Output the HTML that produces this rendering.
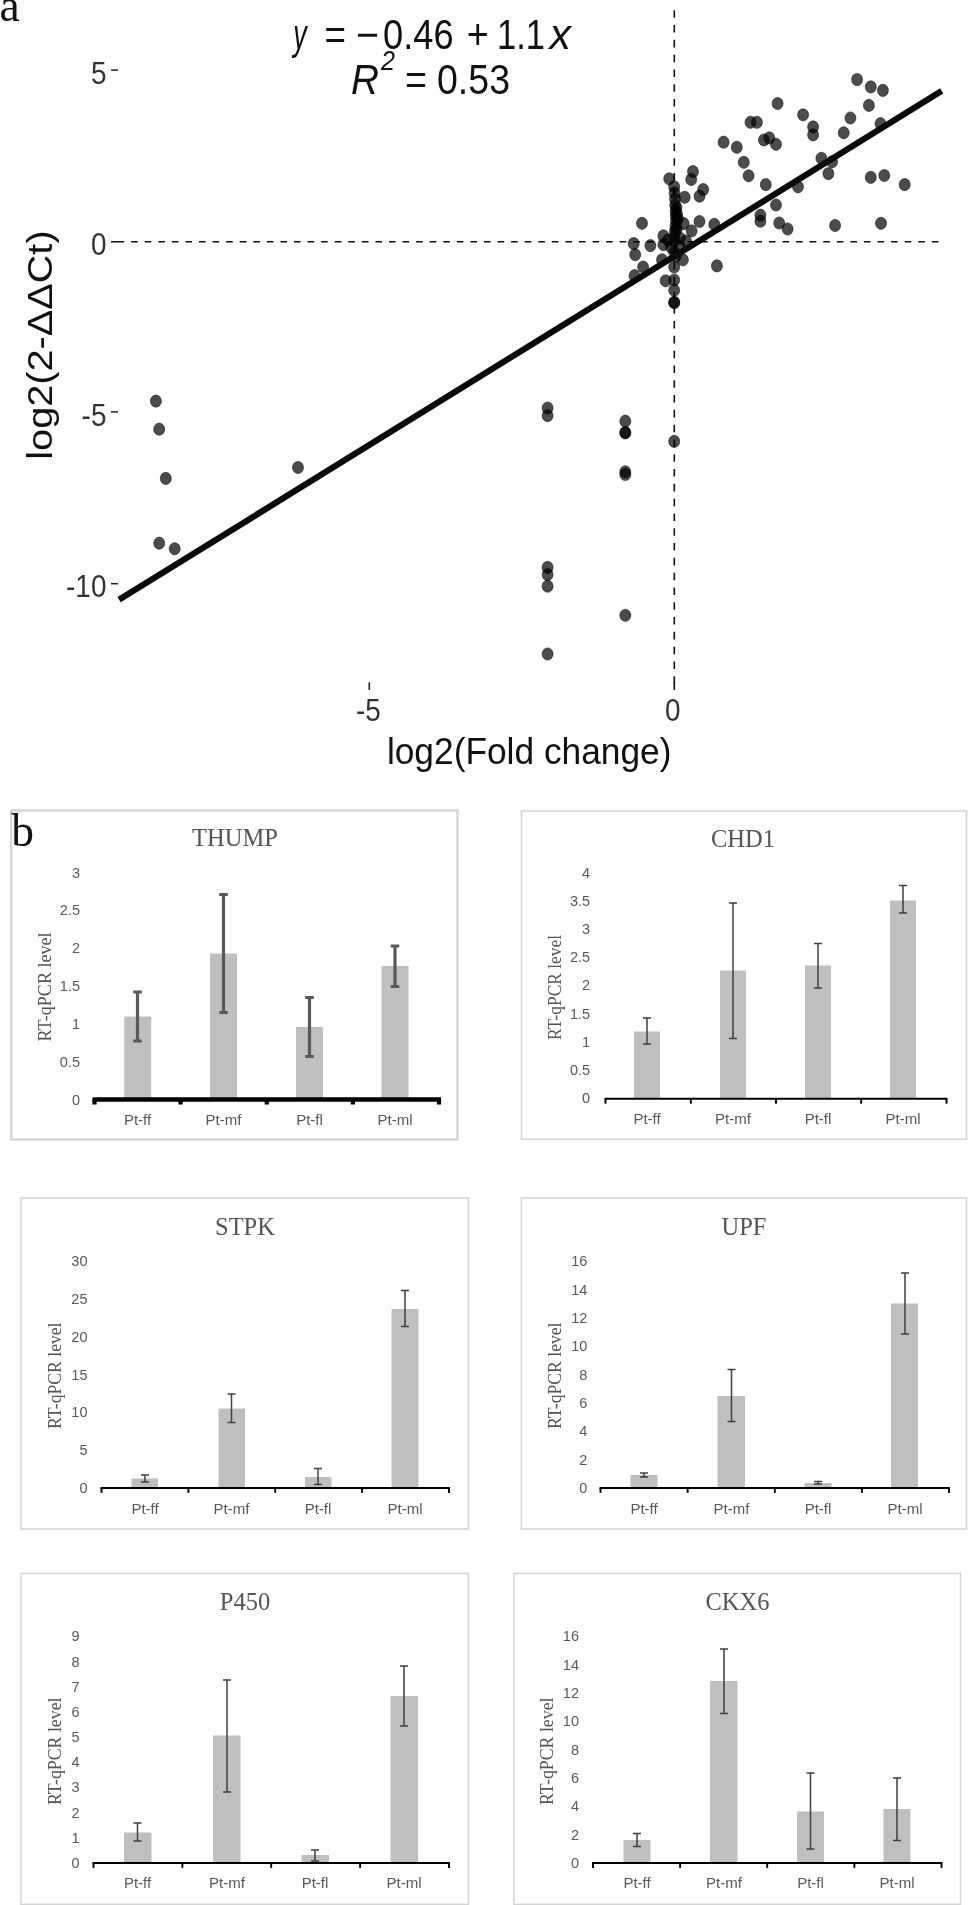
<!DOCTYPE html>
<html lang="en">
<head>
<meta charset="utf-8">
<title>Figure: RT-qPCR validation</title>
<style>
html,body{margin:0;padding:0;background:#fff;}
body{width:968px;height:1905px;overflow:hidden;}
svg{display:block;will-change:transform;}
text{white-space:pre;}
</style>
</head>
<body>
<svg width="968" height="1905" viewBox="0 0 968 1905">
<rect width="968" height="1905" fill="#fff"/>
<g id="scatter">
<line x1="117.6" y1="241.8" x2="942" y2="241.8" stroke="#111" stroke-width="1.5" stroke-dasharray="6.6 6.97"/>
<line x1="111" y1="241.8" x2="118" y2="241.8" stroke="#111" stroke-width="1.5"/>
<line x1="674.3" y1="10.25" x2="674.3" y2="683.8" stroke="#111" stroke-width="1.6" stroke-dasharray="7.55 7.25"/>
<line x1="674.3" y1="682.4" x2="674.3" y2="690" stroke="#111" stroke-width="1.6"/>
<g fill="#000" fill-opacity="0.70" stroke="#000" stroke-opacity="0.5" stroke-width="1">
<ellipse cx="669.2" cy="178.8" rx="5.5" ry="6.1"/>
<ellipse cx="693.0" cy="171.6" rx="5.5" ry="6.1"/>
<ellipse cx="691.2" cy="179.5" rx="5.5" ry="6.1"/>
<ellipse cx="703.2" cy="189.6" rx="5.5" ry="6.1"/>
<ellipse cx="699.5" cy="196.2" rx="5.5" ry="6.1"/>
<ellipse cx="684.7" cy="197.3" rx="5.5" ry="6.1"/>
<ellipse cx="674.2" cy="186.8" rx="5.5" ry="6.1"/>
<ellipse cx="674.6" cy="193" rx="5.5" ry="6.1"/>
<ellipse cx="675" cy="199" rx="5.5" ry="6.1"/>
<ellipse cx="675.2" cy="205" rx="5.5" ry="6.1"/>
<ellipse cx="675.6" cy="211" rx="5.5" ry="6.1"/>
<ellipse cx="675.8" cy="216" rx="5.5" ry="6.1"/>
<ellipse cx="676" cy="221" rx="5.5" ry="6.1"/>
<ellipse cx="675.5" cy="226" rx="5.5" ry="6.1"/>
<ellipse cx="675" cy="231" rx="5.5" ry="6.1"/>
<ellipse cx="674.6" cy="236" rx="5.5" ry="6.1"/>
<ellipse cx="674.2" cy="241" rx="5.5" ry="6.1"/>
<ellipse cx="676.5" cy="208" rx="5.5" ry="6.1"/>
<ellipse cx="677" cy="214" rx="5.5" ry="6.1"/>
<ellipse cx="678" cy="219" rx="5.5" ry="6.1"/>
<ellipse cx="676.8" cy="229" rx="5.5" ry="6.1"/>
<ellipse cx="642" cy="223.3" rx="5.5" ry="6.1"/>
<ellipse cx="699.5" cy="221.5" rx="5.5" ry="6.1"/>
<ellipse cx="714.3" cy="224.4" rx="5.5" ry="6.1"/>
<ellipse cx="683.6" cy="223.6" rx="5.5" ry="6.1"/>
<ellipse cx="691.6" cy="230.9" rx="5.5" ry="6.1"/>
<ellipse cx="663.4" cy="235.9" rx="5.5" ry="6.1"/>
<ellipse cx="633.7" cy="243.6" rx="5.5" ry="6.1"/>
<ellipse cx="650.4" cy="245.6" rx="5.5" ry="6.1"/>
<ellipse cx="663.4" cy="244.6" rx="5.5" ry="6.1"/>
<ellipse cx="668" cy="240" rx="5.5" ry="6.1"/>
<ellipse cx="680" cy="238" rx="5.5" ry="6.1"/>
<ellipse cx="686" cy="241" rx="5.5" ry="6.1"/>
<ellipse cx="680" cy="247" rx="5.5" ry="6.1"/>
<ellipse cx="671" cy="247" rx="5.5" ry="6.1"/>
<ellipse cx="635.2" cy="254.7" rx="5.5" ry="6.1"/>
<ellipse cx="643.1" cy="267" rx="5.5" ry="6.1"/>
<ellipse cx="634.5" cy="275.7" rx="5.5" ry="6.1"/>
<ellipse cx="662" cy="259.8" rx="5.5" ry="6.1"/>
<ellipse cx="682.9" cy="259.8" rx="5.5" ry="6.1"/>
<ellipse cx="716.9" cy="265.9" rx="5.5" ry="6.1"/>
<ellipse cx="674.2" cy="252" rx="5.5" ry="6.1"/>
<ellipse cx="676" cy="256" rx="5.5" ry="6.1"/>
<ellipse cx="674.2" cy="267" rx="5.5" ry="6.1"/>
<ellipse cx="665.6" cy="280.8" rx="5.5" ry="6.1"/>
<ellipse cx="674.2" cy="280" rx="5.5" ry="6.1"/>
<ellipse cx="674.2" cy="290.2" rx="5.5" ry="6.1"/>
<ellipse cx="674.2" cy="302.5" rx="5.5" ry="6.1"/>
<ellipse cx="674.2" cy="302.5" rx="5.5" ry="6.1"/>
<ellipse cx="857.1" cy="79.6" rx="5.5" ry="6.1"/>
<ellipse cx="870.8" cy="86.9" rx="5.5" ry="6.1"/>
<ellipse cx="882.9" cy="90.4" rx="5.5" ry="6.1"/>
<ellipse cx="868.9" cy="105.4" rx="5.5" ry="6.1"/>
<ellipse cx="777.6" cy="103.5" rx="5.5" ry="6.1"/>
<ellipse cx="803.1" cy="114.8" rx="5.5" ry="6.1"/>
<ellipse cx="850.4" cy="118" rx="5.5" ry="6.1"/>
<ellipse cx="880.5" cy="123.7" rx="5.5" ry="6.1"/>
<ellipse cx="750.5" cy="122.3" rx="5.5" ry="6.1"/>
<ellipse cx="756.9" cy="122.3" rx="5.5" ry="6.1"/>
<ellipse cx="813.1" cy="126.9" rx="5.5" ry="6.1"/>
<ellipse cx="813.1" cy="134.9" rx="5.5" ry="6.1"/>
<ellipse cx="843.7" cy="132.8" rx="5.5" ry="6.1"/>
<ellipse cx="723.6" cy="142.2" rx="5.5" ry="6.1"/>
<ellipse cx="736.8" cy="147.3" rx="5.5" ry="6.1"/>
<ellipse cx="763.9" cy="140" rx="5.5" ry="6.1"/>
<ellipse cx="769.3" cy="137.9" rx="5.5" ry="6.1"/>
<ellipse cx="776" cy="144.3" rx="5.5" ry="6.1"/>
<ellipse cx="743.8" cy="162.3" rx="5.5" ry="6.1"/>
<ellipse cx="748.6" cy="175.8" rx="5.5" ry="6.1"/>
<ellipse cx="821.4" cy="158.3" rx="5.5" ry="6.1"/>
<ellipse cx="832.1" cy="161.8" rx="5.5" ry="6.1"/>
<ellipse cx="828.4" cy="173.6" rx="5.5" ry="6.1"/>
<ellipse cx="765.8" cy="184.6" rx="5.5" ry="6.1"/>
<ellipse cx="798" cy="186.8" rx="5.5" ry="6.1"/>
<ellipse cx="870.8" cy="177.4" rx="5.5" ry="6.1"/>
<ellipse cx="884.3" cy="175.5" rx="5.5" ry="6.1"/>
<ellipse cx="904.7" cy="184.6" rx="5.5" ry="6.1"/>
<ellipse cx="776" cy="205" rx="5.5" ry="6.1"/>
<ellipse cx="760.4" cy="215.2" rx="5.5" ry="6.1"/>
<ellipse cx="760.4" cy="221.2" rx="5.5" ry="6.1"/>
<ellipse cx="779.2" cy="223" rx="5.5" ry="6.1"/>
<ellipse cx="787.6" cy="229" rx="5.5" ry="6.1"/>
<ellipse cx="835.1" cy="225.5" rx="5.5" ry="6.1"/>
<ellipse cx="881" cy="223.3" rx="5.5" ry="6.1"/>
<ellipse cx="155.9" cy="401.1" rx="5.5" ry="6.1"/>
<ellipse cx="159.2" cy="429.2" rx="5.5" ry="6.1"/>
<ellipse cx="165.8" cy="478.4" rx="5.5" ry="6.1"/>
<ellipse cx="159.2" cy="543.2" rx="5.5" ry="6.1"/>
<ellipse cx="174.7" cy="548.8" rx="5.5" ry="6.1"/>
<ellipse cx="298" cy="467.5" rx="5.5" ry="6.1"/>
<ellipse cx="547.6" cy="408" rx="5.5" ry="6.1"/>
<ellipse cx="547.6" cy="415.6" rx="5.5" ry="6.1"/>
<ellipse cx="547.6" cy="567.4" rx="5.5" ry="6.1"/>
<ellipse cx="547.6" cy="574.6" rx="5.5" ry="6.1"/>
<ellipse cx="547.6" cy="586.2" rx="5.5" ry="6.1"/>
<ellipse cx="547.6" cy="654" rx="5.5" ry="6.1"/>
<ellipse cx="625.3" cy="421.2" rx="5.5" ry="6.1"/>
<ellipse cx="625.3" cy="432.5" rx="5.5" ry="6.1"/>
<ellipse cx="625.3" cy="432.9" rx="5.5" ry="6.1"/>
<ellipse cx="625.3" cy="471.8" rx="5.5" ry="6.1"/>
<ellipse cx="625.3" cy="474.5" rx="5.5" ry="6.1"/>
<ellipse cx="625.3" cy="615.3" rx="5.5" ry="6.1"/>
<ellipse cx="674.2" cy="441.4" rx="5.5" ry="6.1"/>
</g>
<line x1="119.1" y1="599.7" x2="941.7" y2="90.9" stroke="#0a0a0a" stroke-width="6.2"/>
<line x1="111" y1="70.1" x2="118" y2="70.1" stroke="#222" stroke-width="1.5"/>
<text x="106.4" y="83.8" text-anchor="end" font-family='"Liberation Sans", sans-serif' font-size="31" fill="#333" transform="translate(106.4 0) scale(0.9 1) translate(-106.4 0)">5</text>
<text x="106.4" y="255.5" text-anchor="end" font-family='"Liberation Sans", sans-serif' font-size="31" fill="#333" transform="translate(106.4 0) scale(0.9 1) translate(-106.4 0)">0</text>
<line x1="111" y1="411.9" x2="118" y2="411.9" stroke="#222" stroke-width="1.5"/>
<text x="106.4" y="425.6" text-anchor="end" font-family='"Liberation Sans", sans-serif' font-size="31" fill="#333" transform="translate(106.4 0) scale(0.9 1) translate(-106.4 0)">-5</text>
<line x1="111" y1="583.7" x2="118" y2="583.7" stroke="#222" stroke-width="1.5"/>
<text x="106.4" y="597.4" text-anchor="end" font-family='"Liberation Sans", sans-serif' font-size="31" fill="#333" transform="translate(106.4 0) scale(0.9 1) translate(-106.4 0)">-10</text>
<line x1="369.3" y1="682.4" x2="369.3" y2="690" stroke="#222" stroke-width="1.6"/>
<text x="368.5" y="721.1" text-anchor="middle" font-family='"Liberation Sans", sans-serif' font-size="31" fill="#333" transform="translate(368.5 0) scale(0.9 1) translate(-368.5 0)">-5</text>
<text x="672.7" y="721.1" text-anchor="middle" font-family='"Liberation Sans", sans-serif' font-size="31" fill="#333" transform="translate(672.7 0) scale(0.9 1) translate(-672.7 0)">0</text>
<text x="386.9" y="763.5" font-family='"Liberation Sans", sans-serif' font-size="37.5" fill="#111" textLength="284.6" lengthAdjust="spacingAndGlyphs">log2(Fold change)</text>
<text transform="translate(51.5 459.7) rotate(-90)" font-family='"Liberation Sans", sans-serif' font-size="35" fill="#111" textLength="229.3" lengthAdjust="spacingAndGlyphs">log2(2-ΔΔCt)</text>
<text x="293.2" y="49" font-family='"Liberation Sans", sans-serif' font-size="42" font-style="italic" fill="#111" textLength="13.5" lengthAdjust="spacingAndGlyphs">y</text>
<text x="324.6" y="49" font-family='"Liberation Sans", sans-serif' font-size="42" fill="#111" textLength="21.5" lengthAdjust="spacingAndGlyphs">=</text>
<text x="356" y="49" font-family='"Liberation Sans", sans-serif' font-size="42" fill="#111" textLength="23" lengthAdjust="spacingAndGlyphs">−</text>
<text x="383.1" y="49" font-family='"Liberation Sans", sans-serif' font-size="42" fill="#111" textLength="70.5" lengthAdjust="spacingAndGlyphs">0.46</text>
<text x="466.8" y="49" font-family='"Liberation Sans", sans-serif' font-size="42" fill="#111" textLength="22" lengthAdjust="spacingAndGlyphs">+</text>
<text x="497" y="49" font-family='"Liberation Sans", sans-serif' font-size="42" fill="#111" textLength="48" lengthAdjust="spacingAndGlyphs">1.1</text>
<text x="549.4" y="49" font-family='"Liberation Sans", sans-serif' font-size="42" font-style="italic" fill="#111" textLength="21.5" lengthAdjust="spacingAndGlyphs">x</text>
<text x="351" y="94.2" font-family='"Liberation Sans", sans-serif' font-size="42" font-style="italic" fill="#111" textLength="28" lengthAdjust="spacingAndGlyphs">R</text>
<text x="381" y="70" font-family='"Liberation Sans", sans-serif' font-size="28" font-style="italic" fill="#111" textLength="14" lengthAdjust="spacingAndGlyphs">2</text>
<text x="405" y="94.2" font-family='"Liberation Sans", sans-serif' font-size="42" fill="#111" textLength="22" lengthAdjust="spacingAndGlyphs">=</text>
<text x="437" y="94.2" font-family='"Liberation Sans", sans-serif' font-size="42" fill="#111" textLength="73" lengthAdjust="spacingAndGlyphs">0.53</text>
</g>
<text x="-0.4" y="20.5" font-family='"Liberation Serif", serif' font-size="45.5" fill="#111">a</text>
<g>
<rect x="11.2" y="810.5" width="446.3" height="329.0" fill="none" stroke="#d4d4d4" stroke-width="2.4"/>
<text x="235" y="846" text-anchor="middle" font-family='"Liberation Serif", serif' font-size="24.5" fill="#555">THUMP</text>
<text x="80" y="1104.5" text-anchor="end" font-family='"Liberation Sans", sans-serif' font-size="14.5" fill="#595959">0</text>
<text x="80" y="1066.7" text-anchor="end" font-family='"Liberation Sans", sans-serif' font-size="14.5" fill="#595959">0.5</text>
<text x="80" y="1028.8" text-anchor="end" font-family='"Liberation Sans", sans-serif' font-size="14.5" fill="#595959">1</text>
<text x="80" y="991.0" text-anchor="end" font-family='"Liberation Sans", sans-serif' font-size="14.5" fill="#595959">1.5</text>
<text x="80" y="953.2" text-anchor="end" font-family='"Liberation Sans", sans-serif' font-size="14.5" fill="#595959">2</text>
<text x="80" y="915.3" text-anchor="end" font-family='"Liberation Sans", sans-serif' font-size="14.5" fill="#595959">2.5</text>
<text x="80" y="877.5" text-anchor="end" font-family='"Liberation Sans", sans-serif' font-size="14.5" fill="#595959">3</text>
<rect x="124.2" y="1016.5" width="26.999999999999986" height="83.0" fill="#bfbfbf"/>
<rect x="210" y="953.5" width="27" height="146.0" fill="#bfbfbf"/>
<rect x="296" y="1027" width="27" height="72.5" fill="#bfbfbf"/>
<rect x="381.5" y="966" width="27.0" height="133.5" fill="#bfbfbf"/>
<line x1="92.5" y1="1099.5" x2="441" y2="1099.5" stroke="#000" stroke-width="4.6"/>
<line x1="94.5" y1="1099.5" x2="94.5" y2="1104.5" stroke="#000" stroke-width="4.2"/>
<line x1="180.6" y1="1099.5" x2="180.6" y2="1104.5" stroke="#000" stroke-width="4.2"/>
<line x1="266.8" y1="1099.5" x2="266.8" y2="1104.5" stroke="#000" stroke-width="4.2"/>
<line x1="352.9" y1="1099.5" x2="352.9" y2="1104.5" stroke="#000" stroke-width="4.2"/>
<line x1="439.0" y1="1099.5" x2="439.0" y2="1104.5" stroke="#000" stroke-width="4.2"/>
<path d="M137.5 992V1041M133.2 992H141.8M133.2 1041H141.8" stroke="#595959" stroke-width="3.2" fill="none"/>
<path d="M223.5 894.5V1012.5M219.2 894.5H227.8M219.2 1012.5H227.8" stroke="#595959" stroke-width="3.2" fill="none"/>
<path d="M309.5 997.5V1056.5M305.2 997.5H313.8M305.2 1056.5H313.8" stroke="#595959" stroke-width="3.2" fill="none"/>
<path d="M395 946V986.5M390.7 946H399.3M390.7 986.5H399.3" stroke="#595959" stroke-width="3.2" fill="none"/>
<text x="137.5" y="1124.5" text-anchor="middle" font-family='"Liberation Sans", sans-serif' font-size="15" fill="#595959">Pt-ff</text>
<text x="223.5" y="1124.5" text-anchor="middle" font-family='"Liberation Sans", sans-serif' font-size="15" fill="#595959">Pt-mf</text>
<text x="309.5" y="1124.5" text-anchor="middle" font-family='"Liberation Sans", sans-serif' font-size="15" fill="#595959">Pt-fl</text>
<text x="395" y="1124.5" text-anchor="middle" font-family='"Liberation Sans", sans-serif' font-size="15" fill="#595959">Pt-ml</text>
<text transform="translate(51 1041.5) rotate(-90)" font-family='"Liberation Serif", serif' font-size="19.8" fill="#555" textLength="109.0" lengthAdjust="spacingAndGlyphs">RT-qPCR level</text>
</g>
<g>
<rect x="521.5" y="811" width="445.0" height="328.29999999999995" fill="none" stroke="#d4d4d4" stroke-width="1.5"/>
<text x="743" y="846.8" text-anchor="middle" font-family='"Liberation Serif", serif' font-size="24.5" fill="#555">CHD1</text>
<text x="590.2" y="1102.9" text-anchor="end" font-family='"Liberation Sans", sans-serif' font-size="14.5" fill="#595959">0</text>
<text x="590.2" y="1074.8" text-anchor="end" font-family='"Liberation Sans", sans-serif' font-size="14.5" fill="#595959">0.5</text>
<text x="590.2" y="1046.7" text-anchor="end" font-family='"Liberation Sans", sans-serif' font-size="14.5" fill="#595959">1</text>
<text x="590.2" y="1018.5" text-anchor="end" font-family='"Liberation Sans", sans-serif' font-size="14.5" fill="#595959">1.5</text>
<text x="590.2" y="990.4" text-anchor="end" font-family='"Liberation Sans", sans-serif' font-size="14.5" fill="#595959">2</text>
<text x="590.2" y="962.3" text-anchor="end" font-family='"Liberation Sans", sans-serif' font-size="14.5" fill="#595959">2.5</text>
<text x="590.2" y="934.1" text-anchor="end" font-family='"Liberation Sans", sans-serif' font-size="14.5" fill="#595959">3</text>
<text x="590.2" y="906.0" text-anchor="end" font-family='"Liberation Sans", sans-serif' font-size="14.5" fill="#595959">3.5</text>
<text x="590.2" y="877.9" text-anchor="end" font-family='"Liberation Sans", sans-serif' font-size="14.5" fill="#595959">4</text>
<rect x="634" y="1031.5" width="26" height="67.29999999999995" fill="#bfbfbf"/>
<rect x="720" y="970.5" width="26" height="128.29999999999995" fill="#bfbfbf"/>
<rect x="805" y="965.5" width="26" height="133.29999999999995" fill="#bfbfbf"/>
<rect x="890" y="900.5" width="26" height="198.29999999999995" fill="#bfbfbf"/>
<line x1="604.55" y1="1098.8" x2="947.45" y2="1098.8" stroke="#000" stroke-width="2"/>
<line x1="605.5" y1="1098.8" x2="605.5" y2="1103.7" stroke="#000" stroke-width="1.9"/>
<line x1="690.8" y1="1098.8" x2="690.8" y2="1103.7" stroke="#000" stroke-width="1.9"/>
<line x1="776.0" y1="1098.8" x2="776.0" y2="1103.7" stroke="#000" stroke-width="1.9"/>
<line x1="861.2" y1="1098.8" x2="861.2" y2="1103.7" stroke="#000" stroke-width="1.9"/>
<line x1="946.5" y1="1098.8" x2="946.5" y2="1103.7" stroke="#000" stroke-width="1.9"/>
<path d="M647 1018V1044M643 1018H651M643 1044H651" stroke="#404040" stroke-width="1.5" fill="none"/>
<path d="M733 903V1038.5M729 903H737M729 1038.5H737" stroke="#404040" stroke-width="1.5" fill="none"/>
<path d="M818 943.5V988M814 943.5H822M814 988H822" stroke="#404040" stroke-width="1.5" fill="none"/>
<path d="M903 885.5V913M899 885.5H907M899 913H907" stroke="#404040" stroke-width="1.5" fill="none"/>
<text x="647" y="1123.5" text-anchor="middle" font-family='"Liberation Sans", sans-serif' font-size="15" fill="#595959">Pt-ff</text>
<text x="733" y="1123.5" text-anchor="middle" font-family='"Liberation Sans", sans-serif' font-size="15" fill="#595959">Pt-mf</text>
<text x="818" y="1123.5" text-anchor="middle" font-family='"Liberation Sans", sans-serif' font-size="15" fill="#595959">Pt-fl</text>
<text x="903" y="1123.5" text-anchor="middle" font-family='"Liberation Sans", sans-serif' font-size="15" fill="#595959">Pt-ml</text>
<text transform="translate(561 1040) rotate(-90)" font-family='"Liberation Serif", serif' font-size="19.8" fill="#555" textLength="105" lengthAdjust="spacingAndGlyphs">RT-qPCR level</text>
</g>
<g>
<rect x="21" y="1198" width="447.5" height="331" fill="none" stroke="#d4d4d4" stroke-width="1.5"/>
<text x="245" y="1235" text-anchor="middle" font-family='"Liberation Serif", serif' font-size="24.5" fill="#555">STPK</text>
<text x="87.5" y="1492.9" text-anchor="end" font-family='"Liberation Sans", sans-serif' font-size="14.5" fill="#595959">0</text>
<text x="87.5" y="1455.2" text-anchor="end" font-family='"Liberation Sans", sans-serif' font-size="14.5" fill="#595959">5</text>
<text x="87.5" y="1417.4" text-anchor="end" font-family='"Liberation Sans", sans-serif' font-size="14.5" fill="#595959">10</text>
<text x="87.5" y="1379.7" text-anchor="end" font-family='"Liberation Sans", sans-serif' font-size="14.5" fill="#595959">15</text>
<text x="87.5" y="1341.9" text-anchor="end" font-family='"Liberation Sans", sans-serif' font-size="14.5" fill="#595959">20</text>
<text x="87.5" y="1304.2" text-anchor="end" font-family='"Liberation Sans", sans-serif' font-size="14.5" fill="#595959">25</text>
<text x="87.5" y="1266.4" text-anchor="end" font-family='"Liberation Sans", sans-serif' font-size="14.5" fill="#595959">30</text>
<rect x="131.5" y="1478.5" width="26.5" height="9.5" fill="#bfbfbf"/>
<rect x="218.5" y="1408.5" width="26.5" height="79.5" fill="#bfbfbf"/>
<rect x="305" y="1477" width="26.5" height="11" fill="#bfbfbf"/>
<rect x="391.5" y="1309" width="27.0" height="179" fill="#bfbfbf"/>
<line x1="100.55" y1="1488" x2="449.95" y2="1488" stroke="#000" stroke-width="2"/>
<line x1="101.5" y1="1488" x2="101.5" y2="1492.9" stroke="#000" stroke-width="1.9"/>
<line x1="188.4" y1="1488" x2="188.4" y2="1492.9" stroke="#000" stroke-width="1.9"/>
<line x1="275.2" y1="1488" x2="275.2" y2="1492.9" stroke="#000" stroke-width="1.9"/>
<line x1="362.1" y1="1488" x2="362.1" y2="1492.9" stroke="#000" stroke-width="1.9"/>
<line x1="449.0" y1="1488" x2="449.0" y2="1492.9" stroke="#000" stroke-width="1.9"/>
<path d="M145 1475V1482M141 1475H149M141 1482H149" stroke="#404040" stroke-width="1.5" fill="none"/>
<path d="M231.5 1394V1422.5M227.5 1394H235.5M227.5 1422.5H235.5" stroke="#404040" stroke-width="1.5" fill="none"/>
<path d="M318 1468.5V1484.5M314 1468.5H322M314 1484.5H322" stroke="#404040" stroke-width="1.5" fill="none"/>
<path d="M405 1290.5V1326.5M401 1290.5H409M401 1326.5H409" stroke="#404040" stroke-width="1.5" fill="none"/>
<text x="145" y="1513.5" text-anchor="middle" font-family='"Liberation Sans", sans-serif' font-size="15" fill="#595959">Pt-ff</text>
<text x="231.5" y="1513.5" text-anchor="middle" font-family='"Liberation Sans", sans-serif' font-size="15" fill="#595959">Pt-mf</text>
<text x="318" y="1513.5" text-anchor="middle" font-family='"Liberation Sans", sans-serif' font-size="15" fill="#595959">Pt-fl</text>
<text x="405" y="1513.5" text-anchor="middle" font-family='"Liberation Sans", sans-serif' font-size="15" fill="#595959">Pt-ml</text>
<text transform="translate(61 1429) rotate(-90)" font-family='"Liberation Serif", serif' font-size="19.8" fill="#555" textLength="106.5" lengthAdjust="spacingAndGlyphs">RT-qPCR level</text>
</g>
<g>
<rect x="521.4" y="1198" width="445.1" height="331" fill="none" stroke="#d4d4d4" stroke-width="1.5"/>
<text x="744" y="1235" text-anchor="middle" font-family='"Liberation Serif", serif' font-size="24.5" fill="#555">UPF</text>
<text x="587.3" y="1492.9" text-anchor="end" font-family='"Liberation Sans", sans-serif' font-size="14.5" fill="#595959">0</text>
<text x="587.3" y="1464.6" text-anchor="end" font-family='"Liberation Sans", sans-serif' font-size="14.5" fill="#595959">2</text>
<text x="587.3" y="1436.3" text-anchor="end" font-family='"Liberation Sans", sans-serif' font-size="14.5" fill="#595959">4</text>
<text x="587.3" y="1408.0" text-anchor="end" font-family='"Liberation Sans", sans-serif' font-size="14.5" fill="#595959">6</text>
<text x="587.3" y="1379.7" text-anchor="end" font-family='"Liberation Sans", sans-serif' font-size="14.5" fill="#595959">8</text>
<text x="587.3" y="1351.3" text-anchor="end" font-family='"Liberation Sans", sans-serif' font-size="14.5" fill="#595959">10</text>
<text x="587.3" y="1323.0" text-anchor="end" font-family='"Liberation Sans", sans-serif' font-size="14.5" fill="#595959">12</text>
<text x="587.3" y="1294.7" text-anchor="end" font-family='"Liberation Sans", sans-serif' font-size="14.5" fill="#595959">14</text>
<text x="587.3" y="1266.4" text-anchor="end" font-family='"Liberation Sans", sans-serif' font-size="14.5" fill="#595959">16</text>
<rect x="630.5" y="1475" width="27.0" height="13" fill="#bfbfbf"/>
<rect x="717.5" y="1396" width="27.5" height="92" fill="#bfbfbf"/>
<rect x="804.5" y="1483" width="27.0" height="5" fill="#bfbfbf"/>
<rect x="891" y="1303.5" width="27" height="184.5" fill="#bfbfbf"/>
<line x1="599.55" y1="1488" x2="949.95" y2="1488" stroke="#000" stroke-width="2"/>
<line x1="600.5" y1="1488" x2="600.5" y2="1492.9" stroke="#000" stroke-width="1.9"/>
<line x1="687.6" y1="1488" x2="687.6" y2="1492.9" stroke="#000" stroke-width="1.9"/>
<line x1="774.8" y1="1488" x2="774.8" y2="1492.9" stroke="#000" stroke-width="1.9"/>
<line x1="861.9" y1="1488" x2="861.9" y2="1492.9" stroke="#000" stroke-width="1.9"/>
<line x1="949.0" y1="1488" x2="949.0" y2="1492.9" stroke="#000" stroke-width="1.9"/>
<path d="M644 1473V1477M640 1473H648M640 1477H648" stroke="#404040" stroke-width="1.5" fill="none"/>
<path d="M731.5 1369.5V1421.5M727.5 1369.5H735.5M727.5 1421.5H735.5" stroke="#404040" stroke-width="1.5" fill="none"/>
<path d="M818 1481.5V1484M814 1481.5H822M814 1484H822" stroke="#404040" stroke-width="1.5" fill="none"/>
<path d="M905 1273V1334M901 1273H909M901 1334H909" stroke="#404040" stroke-width="1.5" fill="none"/>
<text x="644" y="1513.5" text-anchor="middle" font-family='"Liberation Sans", sans-serif' font-size="15" fill="#595959">Pt-ff</text>
<text x="731.5" y="1513.5" text-anchor="middle" font-family='"Liberation Sans", sans-serif' font-size="15" fill="#595959">Pt-mf</text>
<text x="818" y="1513.5" text-anchor="middle" font-family='"Liberation Sans", sans-serif' font-size="15" fill="#595959">Pt-fl</text>
<text x="905" y="1513.5" text-anchor="middle" font-family='"Liberation Sans", sans-serif' font-size="15" fill="#595959">Pt-ml</text>
<text transform="translate(561 1429) rotate(-90)" font-family='"Liberation Serif", serif' font-size="19.8" fill="#555" textLength="106.5" lengthAdjust="spacingAndGlyphs">RT-qPCR level</text>
</g>
<g>
<rect x="21" y="1573.4" width="447.4" height="330.89999999999986" fill="none" stroke="#d4d4d4" stroke-width="1.5"/>
<text x="245" y="1609.5" text-anchor="middle" font-family='"Liberation Serif", serif' font-size="24.5" fill="#555">P450</text>
<text x="79.5" y="1867.9" text-anchor="end" font-family='"Liberation Sans", sans-serif' font-size="14.5" fill="#595959">0</text>
<text x="79.5" y="1842.7" text-anchor="end" font-family='"Liberation Sans", sans-serif' font-size="14.5" fill="#595959">1</text>
<text x="79.5" y="1817.6" text-anchor="end" font-family='"Liberation Sans", sans-serif' font-size="14.5" fill="#595959">2</text>
<text x="79.5" y="1792.4" text-anchor="end" font-family='"Liberation Sans", sans-serif' font-size="14.5" fill="#595959">3</text>
<text x="79.5" y="1767.2" text-anchor="end" font-family='"Liberation Sans", sans-serif' font-size="14.5" fill="#595959">4</text>
<text x="79.5" y="1742.1" text-anchor="end" font-family='"Liberation Sans", sans-serif' font-size="14.5" fill="#595959">5</text>
<text x="79.5" y="1716.9" text-anchor="end" font-family='"Liberation Sans", sans-serif' font-size="14.5" fill="#595959">6</text>
<text x="79.5" y="1691.7" text-anchor="end" font-family='"Liberation Sans", sans-serif' font-size="14.5" fill="#595959">7</text>
<text x="79.5" y="1666.6" text-anchor="end" font-family='"Liberation Sans", sans-serif' font-size="14.5" fill="#595959">8</text>
<text x="79.5" y="1641.4" text-anchor="end" font-family='"Liberation Sans", sans-serif' font-size="14.5" fill="#595959">9</text>
<rect x="124" y="1832.5" width="27.5" height="30.5" fill="#bfbfbf"/>
<rect x="213" y="1735.5" width="27.5" height="127.5" fill="#bfbfbf"/>
<rect x="301.5" y="1855" width="27.5" height="8" fill="#bfbfbf"/>
<rect x="390.5" y="1696" width="27.5" height="167" fill="#bfbfbf"/>
<line x1="92.55" y1="1863" x2="449.95" y2="1863" stroke="#000" stroke-width="2"/>
<line x1="93.5" y1="1863" x2="93.5" y2="1867.9" stroke="#000" stroke-width="1.9"/>
<line x1="182.4" y1="1863" x2="182.4" y2="1867.9" stroke="#000" stroke-width="1.9"/>
<line x1="271.2" y1="1863" x2="271.2" y2="1867.9" stroke="#000" stroke-width="1.9"/>
<line x1="360.1" y1="1863" x2="360.1" y2="1867.9" stroke="#000" stroke-width="1.9"/>
<line x1="449.0" y1="1863" x2="449.0" y2="1867.9" stroke="#000" stroke-width="1.9"/>
<path d="M137.5 1823V1841M133.5 1823H141.5M133.5 1841H141.5" stroke="#404040" stroke-width="1.5" fill="none"/>
<path d="M227 1680V1792M223 1680H231M223 1792H231" stroke="#404040" stroke-width="1.5" fill="none"/>
<path d="M315 1850V1861M311 1850H319M311 1861H319" stroke="#404040" stroke-width="1.5" fill="none"/>
<path d="M404 1666V1726M400 1666H408M400 1726H408" stroke="#404040" stroke-width="1.5" fill="none"/>
<text x="137.5" y="1887.5" text-anchor="middle" font-family='"Liberation Sans", sans-serif' font-size="15" fill="#595959">Pt-ff</text>
<text x="227" y="1887.5" text-anchor="middle" font-family='"Liberation Sans", sans-serif' font-size="15" fill="#595959">Pt-mf</text>
<text x="315" y="1887.5" text-anchor="middle" font-family='"Liberation Sans", sans-serif' font-size="15" fill="#595959">Pt-fl</text>
<text x="404" y="1887.5" text-anchor="middle" font-family='"Liberation Sans", sans-serif' font-size="15" fill="#595959">Pt-ml</text>
<text transform="translate(61 1805) rotate(-90)" font-family='"Liberation Serif", serif' font-size="19.8" fill="#555" textLength="107.5" lengthAdjust="spacingAndGlyphs">RT-qPCR level</text>
</g>
<g>
<rect x="513.9" y="1573.4" width="446.6" height="330.89999999999986" fill="none" stroke="#d4d4d4" stroke-width="1.5"/>
<text x="737.5" y="1609.5" text-anchor="middle" font-family='"Liberation Serif", serif' font-size="24.5" fill="#555">CKX6</text>
<text x="579" y="1867.9" text-anchor="end" font-family='"Liberation Sans", sans-serif' font-size="14.5" fill="#595959">0</text>
<text x="579" y="1839.6" text-anchor="end" font-family='"Liberation Sans", sans-serif' font-size="14.5" fill="#595959">2</text>
<text x="579" y="1811.3" text-anchor="end" font-family='"Liberation Sans", sans-serif' font-size="14.5" fill="#595959">4</text>
<text x="579" y="1783.0" text-anchor="end" font-family='"Liberation Sans", sans-serif' font-size="14.5" fill="#595959">6</text>
<text x="579" y="1754.7" text-anchor="end" font-family='"Liberation Sans", sans-serif' font-size="14.5" fill="#595959">8</text>
<text x="579" y="1726.3" text-anchor="end" font-family='"Liberation Sans", sans-serif' font-size="14.5" fill="#595959">10</text>
<text x="579" y="1698.0" text-anchor="end" font-family='"Liberation Sans", sans-serif' font-size="14.5" fill="#595959">12</text>
<text x="579" y="1669.7" text-anchor="end" font-family='"Liberation Sans", sans-serif' font-size="14.5" fill="#595959">14</text>
<text x="579" y="1641.4" text-anchor="end" font-family='"Liberation Sans", sans-serif' font-size="14.5" fill="#595959">16</text>
<rect x="623.5" y="1840" width="27.0" height="23" fill="#bfbfbf"/>
<rect x="710" y="1681" width="27.5" height="182" fill="#bfbfbf"/>
<rect x="797" y="1811.5" width="27" height="51.5" fill="#bfbfbf"/>
<rect x="883.5" y="1809" width="27.0" height="54" fill="#bfbfbf"/>
<line x1="592.05" y1="1863" x2="942.45" y2="1863" stroke="#000" stroke-width="2"/>
<line x1="593.0" y1="1863" x2="593.0" y2="1867.9" stroke="#000" stroke-width="1.9"/>
<line x1="680.1" y1="1863" x2="680.1" y2="1867.9" stroke="#000" stroke-width="1.9"/>
<line x1="767.2" y1="1863" x2="767.2" y2="1867.9" stroke="#000" stroke-width="1.9"/>
<line x1="854.4" y1="1863" x2="854.4" y2="1867.9" stroke="#000" stroke-width="1.9"/>
<line x1="941.5" y1="1863" x2="941.5" y2="1867.9" stroke="#000" stroke-width="1.9"/>
<path d="M637 1833.5V1846.5M633 1833.5H641M633 1846.5H641" stroke="#404040" stroke-width="1.5" fill="none"/>
<path d="M724 1649V1713.5M720 1649H728M720 1713.5H728" stroke="#404040" stroke-width="1.5" fill="none"/>
<path d="M810.5 1773V1849M806.5 1773H814.5M806.5 1849H814.5" stroke="#404040" stroke-width="1.5" fill="none"/>
<path d="M897 1778V1840.5M893 1778H901M893 1840.5H901" stroke="#404040" stroke-width="1.5" fill="none"/>
<text x="637" y="1887.5" text-anchor="middle" font-family='"Liberation Sans", sans-serif' font-size="15" fill="#595959">Pt-ff</text>
<text x="724" y="1887.5" text-anchor="middle" font-family='"Liberation Sans", sans-serif' font-size="15" fill="#595959">Pt-mf</text>
<text x="810.5" y="1887.5" text-anchor="middle" font-family='"Liberation Sans", sans-serif' font-size="15" fill="#595959">Pt-fl</text>
<text x="897" y="1887.5" text-anchor="middle" font-family='"Liberation Sans", sans-serif' font-size="15" fill="#595959">Pt-ml</text>
<text transform="translate(552.5 1805) rotate(-90)" font-family='"Liberation Serif", serif' font-size="19.8" fill="#555" textLength="107.5" lengthAdjust="spacingAndGlyphs">RT-qPCR level</text>
</g>
<text x="11.3" y="846.4" font-family='"Liberation Serif", serif' font-size="45.5" fill="#111">b</text>
</svg>
</body>
</html>
